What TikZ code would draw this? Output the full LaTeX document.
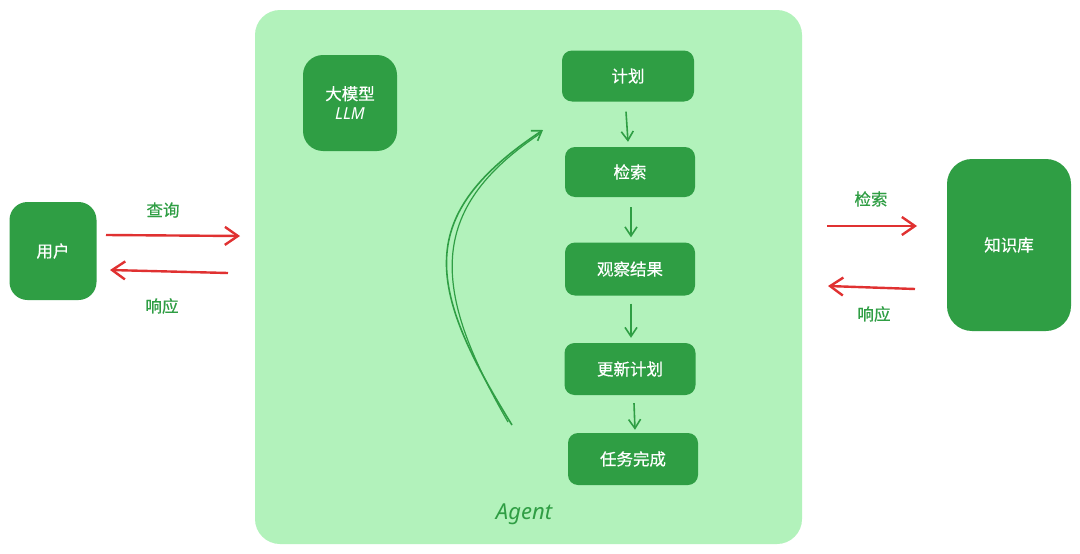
\documentclass[tikz,border=0pt]{standalone}
\usepackage{fontspec}
\newfontfamily\cjk[AutoFakeBold=0.6]{Noto Sans CJK SC}
\newfontfamily\hand{Noto Sans}
\usetikzlibrary{arrows.meta}
\definecolor{boxgreen}{HTML}{2F9E44}
\definecolor{lightgreen}{HTML}{B2F2BB}
\definecolor{arrred}{HTML}{E03131}
\begin{document}
\begin{tikzpicture}[x=1pt,y=-1pt,
  box/.style={fill=boxgreen, text=white, rounded corners=10pt, font=\cjk\bfseries\fontsize{16.5}{19}\selectfont, inner sep=0pt, align=center},
  lbl/.style={text=boxgreen, font=\cjk\bfseries\fontsize{16.5}{19}\selectfont, inner sep=0pt},
  flow/.style={draw=boxgreen, line width=1.6pt, -{Straight Barb[length=9pt,width=12pt,line width=1.6pt]}},
  redarr/.style={draw=arrred, line width=2.4pt, -{Straight Barb[length=13pt,width=18pt,line width=2.4pt]}}]
\useasboundingbox (0,0) rectangle (1080,554);
\fill[white] (0,0) rectangle (1080,554);
% Agent background
\fill[lightgreen, rounded corners=25pt] (255,10) rectangle (802,544);
\node[text=boxgreen, font=\hand\fontsize{22}{26}\selectfont\itshape] (agent) at (524,514) {Agent};
% boxes
\node[box, minimum width=87pt, minimum height=98pt, rounded corners=18pt] (user) at (53,251) {用户};
\node[box, minimum width=124pt, minimum height=172pt, rounded corners=25pt] (kb) at (1009,245) {知识库};
\node[box, minimum width=94pt, minimum height=96pt, rounded corners=20pt] (llm) at (350,103) {大模型\\[1pt]{\hand\itshape LLM}};
\node[box, minimum width=132pt, minimum height=51pt] (plan) at (628,76) {计划};
\node[box, minimum width=130pt, minimum height=50pt] (search) at (630,172) {检索};
\node[box, minimum width=130pt, minimum height=53pt] (observe) at (630,269) {观察结果};
\node[box, minimum width=131pt, minimum height=52pt] (update) at (630,369) {更新计划};
\node[box, minimum width=130pt, minimum height=52pt] (done) at (633,459) {任务完成};
% flow arrows
\draw[flow] ([xshift=-2pt,yshift=-10pt]plan.south) -- ([xshift=-2pt,yshift=5pt]search.north);
\draw[flow] ([xshift=1pt,yshift=-10pt]search.south) -- ([xshift=1pt,yshift=5pt]observe.north);
\draw[flow] ([xshift=1pt,yshift=-8pt]observe.south) -- ([xshift=1pt,yshift=5pt]update.north);
\draw[flow] ([xshift=4pt,yshift=-8pt]update.south) -- ([xshift=2pt,yshift=3pt]done.north);
% loop arrow
\coordinate (loopstart) at (512,425);
\coordinate (loopend) at (543,130);
\draw[flow] (loopstart) .. controls (425,285) and (415,215) .. (loopend);
\draw[boxgreen, line width=1.2pt] (508,422) .. controls (432,290) and (425,210) .. (541,133);
% left arrows
\coordinate (q1) at (106,235);
\coordinate (q2) at (240,236);
\coordinate (r1) at (228,273);
\coordinate (r2) at (110,270);
\draw[redarr] (q1) -- (q2);
\draw[redarr] (r1) -- (r2);
\node[lbl] (lq) at (163,210) {查询};
\node[lbl] (lr) at (162,306) {响应};
% right arrows
\coordinate (s1) at (827,226);
\coordinate (s2) at (917,226);
\coordinate (t1) at (915,289);
\coordinate (t2) at (828,286);
\draw[redarr] (s1) -- (s2);
\draw[redarr] (t1) -- (t2);
\node[lbl] (ls) at (871,199) {检索};
\node[lbl] (lt) at (874,314) {响应};
\end{tikzpicture}
\end{document}
